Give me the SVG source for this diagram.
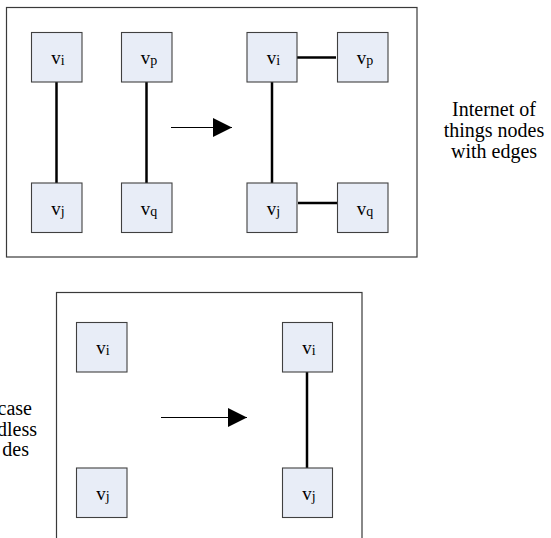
<svg xmlns="http://www.w3.org/2000/svg" width="551" height="538" viewBox="0 0 551 538">
<style>
.frame{fill:#ffffff;stroke:#3a3a3a;stroke-width:1.2}
.node rect{fill:#e8edf7;stroke:#404040;stroke-width:1.1}
.node text{font-family:"Liberation Serif",serif;font-size:19px;fill:#000;text-anchor:middle}
.sub{font-size:14px}
.edge{stroke:#000;stroke-width:2.5;fill:none}
.arrow{stroke:#000;stroke-width:1;fill:none}
.label{font-family:"Liberation Serif",serif;font-size:20px;fill:#000}
</style>
<defs>
<marker id="ah" markerWidth="19" markerHeight="19" refX="19" refY="9.5" orient="auto" markerUnits="userSpaceOnUse">
<path d="M0,0 L19,9.5 L0,19 Z" fill="#000"/>
</marker>
</defs>
<rect class="frame" x="6.5" y="7.5" width="410.5" height="249.5"/>
<rect class="frame" x="56.5" y="292.5" width="305.5" height="260"/>
<g id="connectors">
<line class="edge" x1="56.5" y1="82" x2="56.5" y2="183"/>
<line class="edge" x1="146.5" y1="82" x2="146.5" y2="183"/>
<line class="edge" x1="272" y1="82" x2="272" y2="183"/>
<line class="edge" x1="297" y1="57.5" x2="336" y2="57.5"/>
<line class="edge" x1="298" y1="203" x2="338" y2="203"/>
<line class="edge" x1="307" y1="372" x2="307" y2="468"/>
<line class="arrow" x1="171" y1="127.5" x2="232" y2="127.5" marker-end="url(#ah)"/>
<line class="arrow" x1="161" y1="417.5" x2="247" y2="417.5" marker-end="url(#ah)"/>
</g>
<g id="n1" class="node"><rect x="31.5" y="32.5" width="50.5" height="49.5"/><text x="58" y="64">v<tspan class="sub" dy="1">i</tspan></text></g>
<g id="n2" class="node"><rect x="121.5" y="32.5" width="50.5" height="49.5"/><text x="149" y="64">v<tspan class="sub" dy="1">p</tspan></text></g>
<g id="n3" class="node"><rect x="31.5" y="183" width="50.5" height="49.5"/><text x="58" y="215">v<tspan class="sub" dy="1">j</tspan></text></g>
<g id="n4" class="node"><rect x="121.5" y="183" width="50.5" height="49.5"/><text x="149" y="215">v<tspan class="sub" dy="1">q</tspan></text></g>
<g id="n5" class="node"><rect x="247" y="32.5" width="50" height="49.5"/><text x="273.5" y="64">v<tspan class="sub" dy="1">i</tspan></text></g>
<g id="n6" class="node"><rect x="337.5" y="32.5" width="50.5" height="49.5"/><text x="365" y="64">v<tspan class="sub" dy="1">p</tspan></text></g>
<g id="n7" class="node"><rect x="247" y="183" width="50" height="49.5"/><text x="273.5" y="215">v<tspan class="sub" dy="1">j</tspan></text></g>
<g id="n8" class="node"><rect x="337.5" y="183" width="50.5" height="49.5"/><text x="365" y="215">v<tspan class="sub" dy="1">q</tspan></text></g>
<g id="b1" class="node"><rect x="76.5" y="322.5" width="50.5" height="49.5"/><text x="103" y="354">v<tspan class="sub" dy="1">i</tspan></text></g>
<g id="b2" class="node"><rect x="76.5" y="468" width="50.5" height="49.5"/><text x="103" y="500">v<tspan class="sub" dy="1">j</tspan></text></g>
<g id="b3" class="node"><rect x="282.5" y="322.5" width="50" height="49.5"/><text x="309" y="354">v<tspan class="sub" dy="1">i</tspan></text></g>
<g id="b4" class="node"><rect x="282.5" y="468" width="50" height="49.5"/><text x="309" y="500">v<tspan class="sub" dy="1">j</tspan></text></g>
<g id="label-top" class="label" text-anchor="middle">
<text x="494" y="116">Internet of</text>
<text x="494" y="137">things nodes</text>
<text x="494" y="158">with edges</text>
</g>
<g id="label-bottom" class="label" text-anchor="end">
<text x="32" y="415">case</text>
<text x="37" y="436">dless</text>
<text x="29" y="456">des</text>
</g>
</svg>
